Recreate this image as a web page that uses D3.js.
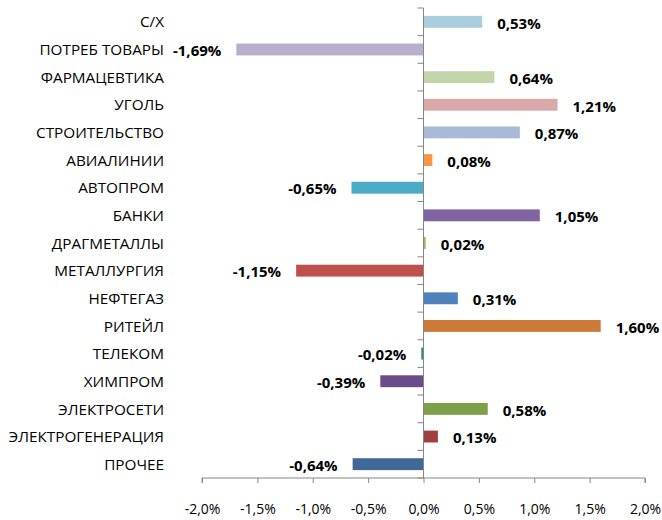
<!DOCTYPE html>
<html>
<head>
<meta charset="utf-8">
<script src="https://cdn.jsdelivr.net/npm/d3@7"></script>
<style>
  body { margin: 0; background: #fff; }
  svg text { font-family: "Open Sans", sans-serif; fill: #000; }
  .cat { font-size: 15.3px; }
  .val { font-size: 15px; font-weight: bold; }
  .axis text { font-size: 14px; }
  .axis path, .axis line { stroke: #868686; }
</style>
</head>
<body>
<div id="chart"></div>
<script>
// sectors, top to bottom
var categories = ["С/Х", "ПОТРЕБ ТОВАРЫ", "ФАРМАЦЕВТИКА", "УГОЛЬ", "СТРОИТЕЛЬСТВО",
  "АВИАЛИНИИ", "АВТОПРОМ", "БАНКИ", "ДРАГМЕТАЛЛЫ", "МЕТАЛЛУРГИЯ", "НЕФТЕГАЗ",
  "РИТЕЙЛ", "ТЕЛЕКОМ", "ХИМПРОМ", "ЭЛЕКТРОСЕТИ", "ЭЛЕКТРОГЕНЕРАЦИЯ", "ПРОЧЕЕ"];

// change, %
var values = [0.53, -1.69, 0.64, 1.21, 0.87, 0.08, -0.65, 1.05, 0.02, -1.15, 0.31,
  1.60, -0.02, -0.39, 0.58, 0.13, -0.64];

var barColors = ["#a9cfdc", "#b9aecb", "#c4d6a9", "#d9a9a9", "#a9b9d8", "#f79646",
  "#4bacc6", "#8064a2", "#9bbb59", "#c0504d", "#4f81bd", "#cc7a37", "#31859c",
  "#6a4c8a", "#7f9e48", "#a03f3d", "#3f6797"];

var xTicks = [-2.0, -1.5, -1.0, -0.5, 0.0, 0.5, 1.0, 1.5, 2.0];

var svgWidth = 662, svgHeight = 520;
var margin = { top: 8, right: 17, bottom: 42, left: 202 };

var svg = d3.select("#chart").append("svg")
  .attr("width", svgWidth)
  .attr("height", svgHeight);

var x = d3.scaleLinear()
  .domain([-2, 2])
  .range([margin.left, svgWidth - margin.right]);

var pad = 0.57;
var y = d3.scaleBand()
  .domain(categories)
  .range([margin.top, svgHeight - margin.bottom])
  .paddingInner(pad)
  .paddingOuter(pad / 2);

var fmt = function(v, digits) {
  return d3.format("." + digits + "f")(v).replace(".", ",").replace("−", "-") + "%";
};

// bottom axis
var xAxis = svg.append("g")
  .attr("class", "axis")
  .attr("transform", "translate(0," + (svgHeight - margin.bottom) + ")")
  .call(d3.axisBottom(x).tickValues(xTicks).tickSize(5).tickPadding(21)
    .tickFormat(function(d) { return fmt(d, 1); }));
xAxis.select(".domain").attr("d", "M" + x(-2) + ",5V0H" + x(2) + "V5");

// bars
svg.selectAll("rect.bar")
  .data(values)
  .enter()
  .append("rect")
  .attr("class", "bar")
  .attr("x", function(d) { return Math.min(x(0), x(d)); })
  .attr("y", function(d, i) { return y(categories[i]); })
  .attr("width", function(d) { return Math.abs(x(d) - x(0)); })
  .attr("height", y.bandwidth())
  .attr("fill", function(d, i) { return barColors[i]; });

// vertical zero axis with ticks between categories
var step = y.step();
var bounds = categories.map(function(c) { return y(c) - step * pad / 2; });
bounds.push(svgHeight - margin.bottom);
svg.append("line")
  .attr("x1", x(0)).attr("x2", x(0))
  .attr("y1", margin.top).attr("y2", svgHeight - margin.bottom)
  .attr("stroke", "#868686");
svg.selectAll("line.ytick")
  .data(bounds)
  .enter()
  .append("line")
  .attr("class", "ytick")
  .attr("x1", x(0) - 6).attr("x2", x(0))
  .attr("y1", function(d) { return d; })
  .attr("y2", function(d) { return d; })
  .attr("stroke", "#868686");

// category labels
svg.selectAll("text.cat")
  .data(categories)
  .enter()
  .append("text")
  .attr("class", "cat")
  .attr("x", 164)
  .attr("y", function(d) { return y(d) + y.bandwidth() / 2; })
  .attr("dy", "0.37em")
  .attr("text-anchor", "end")
  .text(function(d) { return d; });

// value labels
svg.selectAll("text.val")
  .data(values)
  .enter()
  .append("text")
  .attr("class", "val")
  .attr("x", function(d) { return d >= 0 ? x(d) + 15 : x(d) - 15; })
  .attr("y", function(d, i) { return y(categories[i]) + y.bandwidth() / 2; })
  .attr("dy", "0.45em")
  .attr("text-anchor", function(d) { return d >= 0 ? "start" : "end"; })
  .text(function(d) { return fmt(d, 2); });
</script>
</body>
</html>
